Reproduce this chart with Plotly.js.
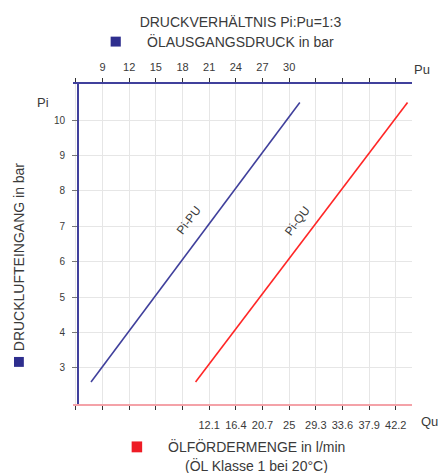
<!DOCTYPE html>
<html><head><meta charset="utf-8">
<script src="https://cdn.plot.ly/plotly-3.0.1.min.js"></script>
<style>html,body{margin:0;padding:0;background:#fff}#chart{width:443px;height:473px}</style>
</head><body><div id="chart"></div>
<script>
// ---- data ----
const puTickVals = [6, 9, 12, 15, 18, 21, 24, 27, 30, 33, 36, 39, 42];
const puTickText = ['', '9', '12', '15', '18', '21', '24', '27', '30', '', '', '', ''];
const quTickVals = [-9.4, -5.1, -0.8, 3.5, 7.8, 12.1, 16.4, 20.7, 25, 29.3, 33.6, 37.9, 42.2];
const quTickText = ['', '', '', '', '', '12.1', '16.4', '20.7', '25', '29.3', '33.6', '37.9', '42.2'];
const piTickVals = [3, 4, 5, 6, 7, 8, 9, 10];
const piTickText = ['3', '4', '5', '6', '7', '8', '9', '10'];
const piPuPi = [2.6, 10.5];
const piPuPu = [7.7, 31.2];
const piQuPi = [2.6, 10.5];
const piQuQu = [9.9, 44.1];

// ---- styling / layout ----
const FONT = 'Liberation Sans, Arial, sans-serif';
const TXT = '#3a3a3a';
const BLUE = '#40409c';
const RED = '#ff2626';
const PINK = '#f4a2a8';
const GRID = '#e6e6e6';
const TICK = '#333';
const puRange = [5.67, 43.83];
const quRange = [-9.87, 44.82];
const piRange = [1.98, 11.02];
const yPos = 0.0118;

const traces = [
  {x: piPuPu, y: piPuPi, xaxis: 'x', yaxis: 'y', mode: 'lines', line: {color: BLUE, width: 1.6}, hoverinfo: 'skip'},
  {x: piQuQu, y: piQuPi, xaxis: 'x3', yaxis: 'y', mode: 'lines', line: {color: RED, width: 1.6}, hoverinfo: 'skip'}
];

const baseX = {fixedrange: true, zeroline: false, tickmode: 'array'};
const layout = {
  width: 443, height: 473,
  margin: {l: 73, r: 31, t: 84, b: 69, pad: 0},
  paper_bgcolor: '#fff', plot_bgcolor: '#fff',
  showlegend: false,
  font: {family: FONT, color: TXT},
  title: {text: 'DRUCKVERHÄLTNIS Pi:Pu=1:3', font: {size: 14, color: TXT, family: FONT},
          x: 0.494, xref: 'paper', xanchor: 'center', y: 0.954, yref: 'container', yanchor: 'middle'},
  // top Pu axis: line, labels, ticks pointing up
  xaxis: Object.assign({}, baseX, {range: puRange, side: 'top', anchor: 'y',
          tickvals: puTickVals, ticktext: puTickText, ticks: 'outside', ticklen: 4, tickcolor: TICK, tickwidth: 1,
          showline: true, linecolor: BLUE, linewidth: 2, showgrid: true, gridcolor: GRID, gridwidth: 1,
          tickfont: {size: 11, color: TXT}, ticklabelstandoff: 3}),
  // ticks pointing down at the top edge
  xaxis2: Object.assign({}, baseX, {range: puRange, side: 'bottom', anchor: 'free', position: 1, overlaying: 'x',
          tickvals: puTickVals, ticks: 'outside', ticklen: 4, tickcolor: TICK, tickwidth: 1,
          showticklabels: false, showgrid: false, showline: false}),
  // bottom Qu axis: line, labels, ticks pointing down
  xaxis3: Object.assign({}, baseX, {range: quRange, side: 'bottom', anchor: 'y', overlaying: 'x',
          tickvals: quTickVals, ticktext: quTickText, ticks: 'outside', ticklen: 4, tickcolor: TICK, tickwidth: 1,
          showline: true, linecolor: PINK, linewidth: 2, showgrid: false,
          tickfont: {size: 11, color: TXT}, ticklabelstandoff: 6}),
  // ticks pointing up at the bottom edge
  xaxis4: Object.assign({}, baseX, {range: quRange, side: 'top', anchor: 'free', position: 0, overlaying: 'x',
          tickvals: quTickVals, ticks: 'outside', ticklen: 4, tickcolor: TICK, tickwidth: 1,
          showticklabels: false, showgrid: false, showline: false}),
  yaxis: {range: piRange, fixedrange: true, zeroline: false, anchor: 'free', position: yPos, side: 'left', tickmode: 'array',
          tickvals: piTickVals, ticktext: piTickText, ticks: 'outside', ticklen: 5, tickcolor: '#777', tickwidth: 1,
          showline: true, linecolor: BLUE, linewidth: 1.5, showgrid: true, gridcolor: GRID, gridwidth: 1,
          tickfont: {size: 10, color: TXT}, ticklabelstandoff: 5},
  yaxis2: {range: piRange, fixedrange: true, zeroline: false, anchor: 'free', position: yPos, side: 'right', overlaying: 'y',
          tickmode: 'array', tickvals: piTickVals, ticks: 'outside', ticklen: 5, tickcolor: '#777', tickwidth: 1,
          showticklabels: false, showgrid: false, showline: false},
  annotations: [
    {text: 'ÖLAUSGANGSDRUCK in bar', x: 0.494, y: 1.132, xref: 'paper', yref: 'paper', xanchor: 'center', yanchor: 'middle', showarrow: false, font: {size: 14, color: TXT}},
    {text: 'Pu', x: 1.029, y: 1.046, xref: 'paper', yref: 'paper', xanchor: 'center', yanchor: 'middle', showarrow: false, font: {size: 13, color: TXT}},
    {text: 'Pi', x: -0.089, y: 0.942, xref: 'paper', yref: 'paper', xanchor: 'center', yanchor: 'middle', showarrow: false, font: {size: 13, color: TXT}},
    {text: 'Qu', x: 1.053, y: -0.055, xref: 'paper', yref: 'paper', xanchor: 'center', yanchor: 'middle', showarrow: false, font: {size: 13, color: TXT}},
    {text: 'ÖLFÖRDERMENGE in l/min', x: 0.542, y: -0.134, xref: 'paper', yref: 'paper', xanchor: 'center', yanchor: 'middle', showarrow: false, font: {size: 14, color: TXT}},
    {text: '(ÖL Klasse 1 bei 20°C)', x: 0.542, y: -0.191, xref: 'paper', yref: 'paper', xanchor: 'center', yanchor: 'middle', showarrow: false, borderpad: 0, font: {size: 14, color: TXT}},
    {text: 'DRUCKLUFTEINGANG in bar', x: -0.159, y: 0.459, xref: 'paper', yref: 'paper', xanchor: 'center', yanchor: 'middle', textangle: -90, showarrow: false, font: {size: 14, color: TXT}},
    {text: 'Pi-PU', x: 0.342, y: 0.575, xref: 'paper', yref: 'paper', xanchor: 'center', yanchor: 'middle', textangle: -53, showarrow: false, font: {size: 12, color: TXT}},
    {text: 'Pi-QU', x: 0.662, y: 0.572, xref: 'paper', yref: 'paper', xanchor: 'center', yanchor: 'middle', textangle: -53, showarrow: false, font: {size: 12, color: TXT}}
  ],
  shapes: [
    {type: 'rect', xref: 'paper', yref: 'paper', x0: 0.111, x1: 0.141, y0: 1.117, y1: 1.148, fillcolor: '#2e2e8e', line: {width: 0}},
    {type: 'rect', xref: 'paper', yref: 'paper', x0: 0.173, x1: 0.204, y0: -0.151, y1: -0.117, fillcolor: '#ee1c25', line: {width: 0}},
    {type: 'rect', xref: 'paper', yref: 'paper', x0: -0.174, x1: -0.145, y0: 0.116, y1: 0.147, fillcolor: '#2e2e8e', line: {width: 0}}
  ]
};

Plotly.newPlot('chart', traces, layout, {displayModeBar: false, staticPlot: true});
</script>
</body></html>
